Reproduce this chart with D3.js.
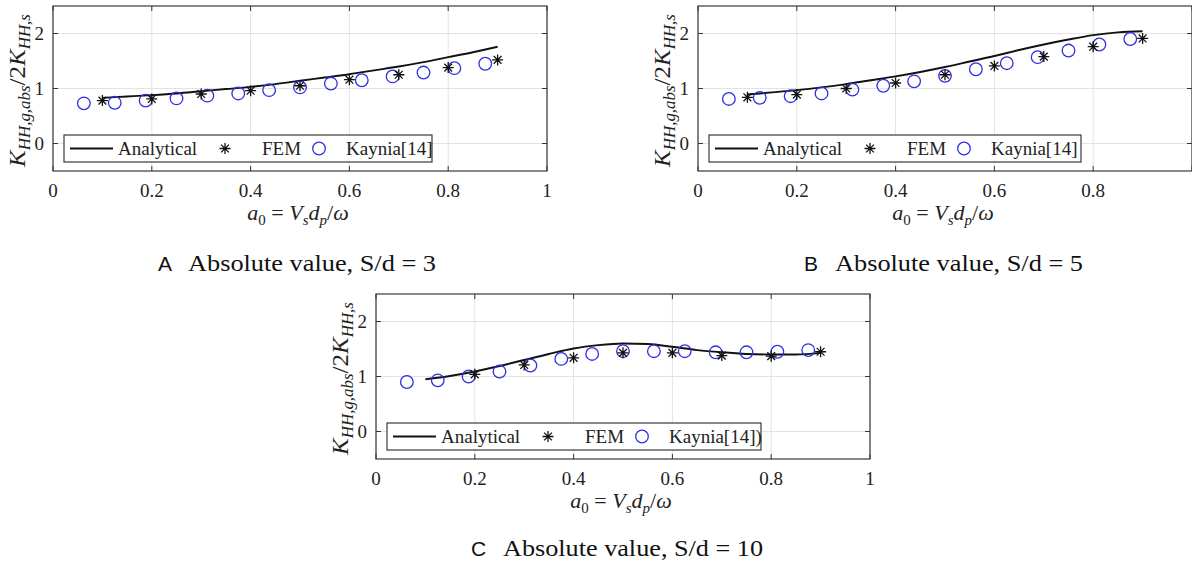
<!DOCTYPE html>
<html>
<head>
<meta charset="utf-8">
<script src="https://cdn.jsdelivr.net/npm/d3@7"></script>
<style>
  body { margin: 0; background: #fff; }
  svg { display: block; }
  .serif { font-family: "Liberation Serif", "Times New Roman", Times, "Nimbus Roman", serif; }
  .sans { font-family: "Liberation Sans", Arial, Helvetica, sans-serif; }
</style>
</head>
<body>
<div id="chart"></div>
<script>
// ---- data ----
var analyticalX = [0.1, 0.15, 0.2, 0.25, 0.3, 0.35, 0.4, 0.45, 0.5, 0.55, 0.6, 0.65, 0.7, 0.75, 0.8, 0.85, 0.9];
var analyticalA = [0.83, 0.855, 0.88, 0.91, 0.95, 0.99, 1.03, 1.08, 1.14, 1.20, 1.26, 1.33, 1.40, 1.48, 1.57, 1.66, 1.76];
var analyticalB = [0.89, 0.93, 0.97, 1.02, 1.08, 1.15, 1.22, 1.30, 1.39, 1.49, 1.59, 1.70, 1.80, 1.89, 1.97, 2.02, 2.04];
var analyticalC = [0.95, 1.01, 1.09, 1.19, 1.30, 1.41, 1.51, 1.57, 1.60, 1.59, 1.54, 1.48, 1.44, 1.41, 1.40, 1.40, 1.43];

var femX  = [0.1, 0.2, 0.3, 0.4, 0.5, 0.6, 0.7, 0.8, 0.9];
var femA  = [0.78, 0.81, 0.90, 0.96, 1.05, 1.16, 1.25, 1.38, 1.52];
var femB  = [0.84, 0.89, 1.00, 1.10, 1.25, 1.41, 1.58, 1.76, 1.91];
var femXC = [0.2, 0.3, 0.4, 0.5, 0.6, 0.7, 0.8, 0.9];
var femC  = [1.04, 1.21, 1.34, 1.43, 1.43, 1.38, 1.37, 1.45];

var kayniaX = [0.0625, 0.125, 0.1875, 0.25, 0.3125, 0.375, 0.4375, 0.5, 0.5625, 0.625, 0.6875, 0.75, 0.8125, 0.875];
var kayniaA = [0.73, 0.74, 0.78, 0.82, 0.87, 0.91, 0.97, 1.02, 1.09, 1.15, 1.22, 1.29, 1.37, 1.45];
var kayniaB = [0.81, 0.83, 0.86, 0.91, 0.98, 1.05, 1.13, 1.23, 1.35, 1.46, 1.57, 1.69, 1.80, 1.90];
var kayniaC = [0.90, 0.93, 1.00, 1.09, 1.20, 1.32, 1.41, 1.46, 1.46, 1.46, 1.44, 1.44, 1.45, 1.48];

var xTicks = [0, 0.2, 0.4, 0.6, 0.8, 1];
var xTickLabels = ['0', '0.2', '0.4', '0.6', '0.8', '1'];
var yTicks = [0, 1, 2];
var yTickLabels = ['0', '1', '2'];

// ---- layout ----
var W = 1192, H = 562;
var plotW = 494, plotH = 165;

var panels = [
  { left: 53, top: 6, line: analyticalA, fx: femX, fy: femA, ky: kayniaA, kLabel: 'Kaynia[14]', legW: 368,
    letter: 'A', caption: 'Absolute value, S/d = 3', capX: 158, capTX: 188, capY: 271, capLen: 248 },
  { left: 698, top: 6, line: analyticalB, fx: femX, fy: femB, ky: kayniaB, kLabel: 'Kaynia[14]', legW: 372,
    letter: 'B', caption: 'Absolute value, S/d = 5', capX: 804, capTX: 835, capY: 271, capLen: 248 },
  { left: 376, top: 294, line: analyticalC, fx: femXC, fy: femC, ky: kayniaC, kLabel: 'Kaynia[14])', legW: 374,
    letter: 'C', caption: 'Absolute value, S/d = 10', capX: 471, capTX: 503, capY: 556, capLen: 260 }
];

var svg = d3.select('#chart').append('svg')
  .attr('width', W)
  .attr('height', H);

svg.append('defs').append('clipPath').attr('id', 'pageclip')
  .append('rect').attr('width', W).attr('height', H);

// text with LaTeX-like subscripts: parts = [text, isSub, isItalic]
function mathText(sel, parts, size, subOff) {
  var cur = 0;
  parts.forEach(function(p) {
    var off = p[1] ? subOff : 0;
    sel.append('tspan')
      .attr('dy', off - cur)
      .attr('font-size', p[1] ? size * 0.68 : size)
      .attr('font-style', p[2] ? 'italic' : 'normal')
      .text(p[0]);
    cur = off;
  });
}

function starPath(s) {
  var d = s * 0.7071;
  return 'M' + (-s) + ',0L' + s + ',0M0,' + (-s) + 'L0,' + s +
         'M' + (-d) + ',' + (-d) + 'L' + d + ',' + d + 'M' + (-d) + ',' + d + 'L' + d + ',' + (-d);
}

panels.forEach(function(p) {
  var x = d3.scaleLinear().domain([0, 1]).range([p.left, p.left + plotW]);
  var y = d3.scaleLinear().domain([-0.5, 2.5]).range([p.top + plotH, p.top]);

  var g = svg.append('g').attr('clip-path', 'url(#pageclip)');

  // grid
  g.selectAll('.vgrid').data(xTicks).enter().append('line')
    .attr('x1', function(d) { return x(d); }).attr('x2', function(d) { return x(d); })
    .attr('y1', y(-0.5)).attr('y2', y(2.5))
    .attr('stroke', '#e3e3e3').attr('stroke-width', 1);
  g.selectAll('.hgrid').data(yTicks).enter().append('line')
    .attr('x1', x(0)).attr('x2', x(1))
    .attr('y1', function(d) { return y(d); }).attr('y2', function(d) { return y(d); })
    .attr('stroke', '#e3e3e3').attr('stroke-width', 1);

  // inward ticks on all four sides
  xTicks.forEach(function(t) {
    g.append('line').attr('x1', x(t)).attr('x2', x(t)).attr('y1', y(-0.5)).attr('y2', y(-0.5) - 5)
      .attr('stroke', '#333');
    g.append('line').attr('x1', x(t)).attr('x2', x(t)).attr('y1', y(2.5)).attr('y2', y(2.5) + 5)
      .attr('stroke', '#333');
  });
  yTicks.forEach(function(t) {
    g.append('line').attr('x1', x(0)).attr('x2', x(0) + 5).attr('y1', y(t)).attr('y2', y(t))
      .attr('stroke', '#333');
    g.append('line').attr('x1', x(1)).attr('x2', x(1) - 5).attr('y1', y(t)).attr('y2', y(t))
      .attr('stroke', '#333');
  });

  // box
  g.append('rect')
    .attr('x', x(0)).attr('y', y(2.5))
    .attr('width', x(1) - x(0)).attr('height', y(-0.5) - y(2.5))
    .attr('fill', 'none').attr('stroke', '#3a3a3a').attr('stroke-width', 1.2);

  // tick labels
  xTicks.forEach(function(t, i) {
    if (x(t) > W - 6) return;
    svg.append('text').attr('class', 'serif')
      .attr('x', x(t)).attr('y', y(-0.5) + 26)
      .attr('text-anchor', 'middle')
      .attr('font-size', 19).attr('fill', '#222')
      .text(xTickLabels[i]);
  });
  yTicks.forEach(function(t, i) {
    svg.append('text').attr('class', 'serif')
      .attr('x', x(0) - 9).attr('y', y(t) + 6)
      .attr('text-anchor', 'end')
      .attr('font-size', 19).attr('fill', '#222')
      .text(yTickLabels[i]);
  });

  // axis labels
  var xl = svg.append('text').attr('class', 'serif')
    .attr('x', x(0.5) - 2).attr('y', y(-0.5) + 49)
    .attr('text-anchor', 'middle')
    .attr('fill', '#222');
  mathText(xl, [['a', false, true], ['0', true, false], [' = ', false, false], ['V', false, true],
    ['s', true, true], ['d', false, true], ['p', true, true], ['/', false, false], ['\u03c9', false, true]], 22, 5);

  var yl = svg.append('text').attr('class', 'serif')
    .attr('text-anchor', 'middle')
    .attr('fill', '#222');
  mathText(yl, [['K', false, true], ['HH,g,abs', true, true], ['/2', false, false], ['K', false, true],
    ['HH,s', true, true]], 24, 5);
  var ylen = yl.node().getComputedTextLength();
  yl.attr('transform', 'translate(' + (x(0) - 28) + ',' + (y(1) + 2) + ') rotate(-90) scale(' + (153 / ylen) + ',1)');

  // analytical line
  var lineGen = d3.line()
    .x(function(d) { return x(d[0]); })
    .y(function(d) { return y(d[1]); })
    .curve(d3.curveMonotoneX);
  g.append('path')
    .datum(analyticalX.map(function(v, i) { return [v, p.line[i]]; }))
    .attr('d', lineGen)
    .attr('fill', 'none').attr('stroke', '#111').attr('stroke-width', 1.9);

  // Kaynia circles
  g.selectAll('.kay').data(kayniaX.map(function(v, i) { return [v, p.ky[i]]; }))
    .enter().append('circle')
    .attr('cx', function(d) { return x(d[0]); })
    .attr('cy', function(d) { return y(d[1]); })
    .attr('r', 6.3)
    .attr('fill', 'none').attr('stroke', '#2f2fe0').attr('stroke-width', 1.3);

  // FEM stars
  g.selectAll('.fem').data(p.fx.map(function(v, i) { return [v, p.fy[i]]; }))
    .enter().append('path')
    .attr('transform', function(d) { return 'translate(' + x(d[0]) + ',' + y(d[1]) + ')'; })
    .attr('d', starPath(5.5))
    .attr('fill', 'none').attr('stroke', '#111').attr('stroke-width', 1.3);

  // legend
  var lx = p.left + 11, ly = p.top + 129;
  var leg = svg.append('g').attr('transform', 'translate(' + lx + ',' + ly + ')');
  leg.append('rect').attr('width', p.legW).attr('height', 27)
    .attr('fill', '#fff').attr('stroke', '#3a3a3a').attr('stroke-width', 1.2);
  leg.append('line').attr('x1', 6).attr('x2', 49).attr('y1', 13.5).attr('y2', 13.5)
    .attr('stroke', '#111').attr('stroke-width', 1.9);
  leg.append('text').attr('class', 'serif').attr('x', 54).attr('y', 20)
    .attr('font-size', 19).attr('fill', '#222').text('Analytical');
  leg.append('path').attr('transform', 'translate(161,13.5)').attr('d', starPath(5.5))
    .attr('fill', 'none').attr('stroke', '#111').attr('stroke-width', 1.3);
  leg.append('text').attr('class', 'serif').attr('x', 198).attr('y', 20)
    .attr('font-size', 19).attr('fill', '#222').text('FEM');
  leg.append('circle').attr('cx', 255).attr('cy', 13.5).attr('r', 6.3)
    .attr('fill', 'none').attr('stroke', '#2f2fe0').attr('stroke-width', 1.3);
  leg.append('text').attr('class', 'serif').attr('x', 282).attr('y', 20)
    .attr('font-size', 19).attr('fill', '#222').text(p.kLabel);

  // caption
  svg.append('text').attr('class', 'sans').attr('x', p.capX).attr('y', p.capY)
    .attr('font-size', 21).attr('fill', '#111').text(p.letter);
  svg.append('text').attr('class', 'serif').attr('x', p.capTX).attr('y', p.capY)
    .attr('font-size', 24).attr('fill', '#111')
    .attr('textLength', p.capLen).attr('lengthAdjust', 'spacingAndGlyphs')
    .text(p.caption);
});
</script>
</body>
</html>
